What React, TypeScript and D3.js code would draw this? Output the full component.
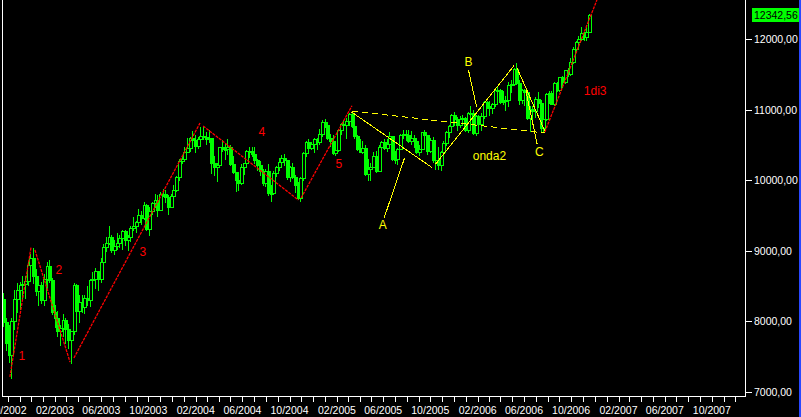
import React from "react";
import * as d3 from "d3";

const W = 801;
const H = 417;

// Weekly bars (week ending Friday)
const FIRST_WEEK = "2002-09-20";
const LAST_WEEK = "2006-11-17";

const opens = [
  8312, 7986, 7701, 7528, 8008, 8322, 8443, 8517, 8537, 8579, 8804, 8896, 8645, 8433, 8511,
  8303, 8601, 8785, 8586, 8131, 8053, 7864, 7908, 8018, 7891, 7740, 7859, 8521, 8145, 8277,
  8203, 8337, 8306, 8582, 8604, 8713, 8601, 8850, 9062, 9117, 9200, 9011, 9070, 9119, 9188,
  9284, 9153, 9191, 9321, 9348, 9416, 9503, 9471, 9644, 9313, 9573, 9674, 9721, 9582, 9801,
  9810, 9768, 9629, 9782, 9862, 10042, 10278,
  10305, 10409, 10458, 10600, 10568, 10488, 10593, 10627, 10619, 10584, 10595, 10240, 10186, 10212,
  10470, 10442, 10451, 10472, 10226, 10117, 10012, 9966, 10188, 10243, 10410, 10416, 10371, 10282,
  10213, 10140, 9962, 10140, 9815, 9825, 10110, 10195, 10260, 10314, 10284, 10047, 10193, 10055,
  9933, 9757, 10027, 10387, 10539, 10456, 10522, 10592, 10543, 10661, 10827,
  10783, 10603, 10558, 10392, 10427, 10716, 10796, 10785, 10841, 10940, 10774, 10629, 10442, 10404,
  10461, 10087, 10157, 10192, 10345, 10140, 10471, 10542, 10460, 10513, 10623, 10297, 10303, 10449,
  10640, 10651, 10641, 10558, 10600, 10559, 10397, 10447, 10679, 10641, 10419, 10569, 10292, 10287,
  10215, 10402, 10530, 10686, 10766, 10931, 10877, 10778, 10875, 10883,
  10718, 10959, 10960, 10667, 10907, 10793, 10919, 11115, 11061, 11021, 11076, 11279, 11280, 11109,
  11120, 11137, 11347, 11367, 11577, 11380, 11144, 11278, 11247, 10891, 11014, 10989, 11150, 11090,
  10739, 10868, 11219, 11240, 11088, 11381, 11284, 11464, 11392, 11560, 11508, 11679, 11866, 11960,
  12002, 12090, 12032, 12108,
];
const highs = [
  8400, 8050, 7950, 8050, 8440, 8540, 8560, 8640, 8640, 8850, 8960, 9043, 8750, 8640, 8560,
  8670, 8850, 8870, 8620, 8230, 8150, 7950, 8110, 8050, 7960, 7870, 8540, 8530, 8380, 8380,
  8370, 8500, 8600, 8700, 8760, 8720, 8900, 9100, 9200, 9350, 9220, 9150, 9260, 9230, 9300,
  9300, 9220, 9350, 9480, 9430, 9600, 9570, 9690, 9660, 9620, 9700, 9810, 9790, 9840, 9880,
  9870, 9790, 9800, 9930, 10060, 10300, 10350,
  10470, 10600, 10620, 10700, 10640, 10610, 10750, 10760, 10680, 10720, 10600, 10350, 10250, 10480,
  10570, 10520, 10580, 10500, 10340, 10120, 10050, 10230, 10250, 10430, 10480, 10480, 10480, 10300,
  10270, 10160, 10160, 10230, 9940, 10140, 10210, 10320, 10360, 10380, 10290, 10210, 10240, 10080,
  9970, 10050, 10400, 10560, 10580, 10550, 10600, 10600, 10730, 10850, 10870,
  10790, 10660, 10650, 10490, 10730, 10810, 10850, 10880, 10950, 10984, 10820, 10640, 10580, 10560,
  10500, 10300, 10250, 10400, 10420, 10500, 10560, 10580, 10580, 10680, 10630, 10420, 10460, 10660,
  10720, 10720, 10720, 10700, 10640, 10580, 10500, 10690, 10720, 10650, 10600, 10620, 10350, 10470,
  10420, 10560, 10700, 10790, 10940, 10970, 10900, 10910, 10920, 10900,
  10970, 11060, 11000, 10930, 10930, 10950, 11130, 11130, 11120, 11090, 11300, 11340, 11300, 11270,
  11200, 11400, 11420, 11600, 11670, 11420, 11300, 11300, 11250, 11060, 11050, 11180, 11250, 11140,
  10900, 11240, 11270, 11270, 11390, 11390, 11470, 11480, 11570, 11590, 11730, 11890, 11970, 12050,
  12170, 12100, 12200, 12360,
];
const lows = [
  7940, 7600, 7422, 7197, 7900, 8140, 8170, 8300, 8330, 8520, 8730, 8550, 8380, 8240, 8260,
  8240, 8480, 8560, 8110, 7920, 7800, 7670, 7800, 7700, 7630, 7417, 7820, 8070, 7990, 8140,
  8120, 8230, 8220, 8520, 8470, 8450, 8560, 8840, 9000, 9100, 8980, 8950, 9030, 9060, 9030,
  9080, 9010, 9140, 9300, 9270, 9400, 9380, 9450, 9300, 9230, 9530, 9620, 9500, 9580, 9780,
  9700, 9530, 9620, 9780, 9850, 10000, 10240,
  10300, 10400, 10410, 10530, 10400, 10460, 10570, 10580, 10520, 10550, 10100, 10070, 9990, 10200,
  10420, 10310, 10380, 10220, 10100, 9850, 9860, 9950, 10090, 10240, 10330, 10340, 10250, 10150,
  10070, 9940, 9920, 9790, 9710, 9800, 10060, 10150, 10230, 10220, 10020, 9990, 10040, 9840,
  9740, 9708, 10000, 10350, 10420, 10450, 10400, 10440, 10520, 10630, 10750,
  10580, 10490, 10380, 10360, 10420, 10660, 10740, 10600, 10780, 10750, 10600, 10430, 10400, 10390,
  10080, 10000, 10000, 10190, 10120, 10130, 10440, 10440, 10410, 10500, 10290, 10250, 10230, 10440,
  10600, 10570, 10540, 10510, 10480, 10390, 10360, 10440, 10580, 10370, 10400, 10260, 10160, 10160,
  10150, 10400, 10500, 10620, 10750, 10780, 10720, 10760, 10780, 10700,
  10680, 10920, 10660, 10640, 10760, 10710, 10880, 11020, 10930, 10950, 11060, 11220, 11100, 11080,
  11000, 11060, 11250, 11350, 11360, 11080, 11100, 11070, 10870, 10700, 10860, 10900, 11040, 10700,
  10680, 10860, 11090, 11080, 11070, 11260, 11260, 11330, 11380, 11480, 11500, 11660, 11820, 11900,
  11990, 11990, 11990, 12100,
];
const closes = [
  7986, 7701, 7528, 8008, 8322, 8443, 8517, 8537, 8579, 8804, 8896, 8645, 8433, 8511, 8303,
  8601, 8785, 8586, 8131, 8053, 7864, 7908, 8018, 7891, 7740, 7859, 8521, 8145, 8277, 8203,
  8337, 8306, 8582, 8604, 8713, 8601, 8850, 9062, 9117, 9200, 9011, 9070, 9119, 9188, 9284,
  9153, 9191, 9321, 9348, 9416, 9503, 9471, 9644, 9313, 9573, 9674, 9721, 9582, 9801, 9810,
  9768, 9629, 9782, 9862, 10042, 10278, 10305,
  10409, 10458, 10600, 10568, 10488, 10593, 10627, 10619, 10584, 10595, 10240, 10186, 10212, 10470,
  10442, 10451, 10472, 10226, 10117, 10012, 9966, 10188, 10243, 10410, 10416, 10371, 10282, 10213,
  10140, 9962, 10140, 9815, 9825, 10110, 10195, 10260, 10314, 10284, 10047, 10193, 10055, 9933,
  9757, 10027, 10387, 10539, 10456, 10522, 10592, 10543, 10661, 10827, 10783,
  10603, 10558, 10392, 10427, 10716, 10796, 10785, 10841, 10940, 10774, 10629, 10442, 10404, 10461,
  10087, 10157, 10192, 10345, 10140, 10471, 10542, 10460, 10513, 10623, 10297, 10303, 10449, 10640,
  10651, 10641, 10558, 10600, 10559, 10397, 10447, 10679, 10641, 10419, 10569, 10292, 10287, 10215,
  10402, 10530, 10686, 10766, 10931, 10877, 10778, 10875, 10883, 10718,
  10959, 10960, 10667, 10907, 10793, 10919, 11115, 11061, 11021, 11076, 11279, 11280, 11109, 11120,
  11137, 11347, 11367, 11577, 11380, 11144, 11278, 11247, 10891, 11014, 10989, 11150, 11090, 10739,
  10868, 11219, 11240, 11088, 11381, 11284, 11464, 11392, 11560, 11508, 11679, 11866, 11960, 12002,
  12090, 12032, 12108, 12342.56,
];

const yTicks = [7000, 8000, 9000, 10000, 11000, 12000];
const lastPrice = 12342.56;

// Elliott wave annotations: [date1, value1, date2, value2]
const redWaves: [string, number, string, number][] = [
  ["2002-10-07", 7213, "2002-12-01", 9056],
  ["2002-12-11", 9013, "2003-03-12", 7425],
  ["2003-03-22", 7482, "2004-02-12", 10813],
  ["2004-02-20", 10771, "2004-10-24", 9722],
  ["2004-10-31", 9750, "2005-03-12", 11058],
  ["2006-07-25", 10686, "2006-12-07", 12557],
];
const yellowLines: [string, number, string, number][] = [
  ["2005-03-11", 10969, "2005-10-05", 10183],
  ["2005-10-15", 10232, "2006-05-06", 11626],
  ["2006-05-14", 11593, "2006-07-25", 10700],
  ["2006-06-06", 11267, "2006-07-05", 10516],
  ["2006-01-08", 11565, "2006-01-29", 11045],
  ["2005-06-03", 9462, "2005-07-26", 10313],
];
const yellowDashed: [string, number, string, number][] = [
  ["2005-03-12", 10984, "2006-07-25", 10672],
];
// [text, date, value(baseline), anchor]
const redLabels: [string, string, number, string][] = [
  ["1", "2002-11-07", 7454, "middle"],
  ["2", "2003-02-11", 8673, "middle"],
  ["3", "2003-09-17", 8928, "middle"],
  ["4", "2004-07-21", 10629, "middle"],
  ["5", "2005-02-06", 10175, "middle"],
  ["1di3", "2006-11-03", 11210, "start"],
];
const yellowLabels: [string, string, number, string][] = [
  ["A", "2005-05-31", 9311, "middle"],
  ["B", "2006-01-08", 11621, "middle"],
  ["C", "2006-07-11", 10346, "middle"],
  ["onda2", "2006-01-19", 10289, "start"],
];

const parse = d3.timeParse("%Y-%m-%d");
const GREEN = "#00ff00";
const RED = "#ff0000";
const YELLOW = "#ffff00";
const FONT = "'Liberation Sans', Arial, sans-serif";

export default function App() {
  const x = d3
    .scaleTime()
    .domain([new Date(2003, 1, 1), new Date(2007, 1, 1)])
    .range([55, 618.5]);
  const y = d3.scaleLinear().domain([7000, 12000]).range([392, 39.3]);

  const weeks = d3.timeFriday.range(
    parse(FIRST_WEEK) as Date,
    d3.timeDay.offset(parse(LAST_WEEK) as Date, 1)
  );
  const bars = weeks.map((d, i) => ({
    d,
    o: opens[i],
    h: highs[i],
    l: lows[i],
    c: closes[i],
  }));

  const months = d3.timeMonth.range(new Date(2002, 9, 1), new Date(2008, 0, 1));
  const fmtMonth = d3.timeFormat("%m/%Y");
  const fmtPrice = (v: number) => d3.format(".2f")(v).replace(".", ",");

  const axisX = 745.5;
  const axisY = 396.5;

  const seg = (s: [string, number, string, number]) => ({
    x1: x(parse(s[0]) as Date),
    y1: y(s[1]),
    x2: x(parse(s[2]) as Date),
    y2: y(s[3]),
  });

  return (
    <div style={{ position: "absolute", left: 0, top: 0 }}>
      <style>{`body{margin:0;background:#000}`}</style>
      <svg width={W} height={H} style={{ display: "block", background: "#000" }}>
        <rect x={0} y={0} width={W} height={H} fill="#000" />
        <defs>
          <clipPath id="plot">
            <rect x={3} y={0} width={axisX - 3} height={axisY} />
          </clipPath>
        </defs>

        {/* candles */}
        <g clipPath="url(#plot)">
          {bars.map((b, i) => {
            const cx = Math.round(x(b.d));
            const top = Math.round(y(Math.max(b.o, b.c)));
            const bot = Math.round(y(Math.min(b.o, b.c)));
            const up = b.c >= b.o;
            return (
              <g key={i} shapeRendering="crispEdges">
                <line
                  x1={cx + 0.5}
                  x2={cx + 0.5}
                  y1={Math.round(y(b.h))}
                  y2={Math.round(y(b.l)) + 1}
                  stroke={GREEN}
                  strokeWidth={1}
                />
                {up ? (
                  <rect
                    x={cx - 1 + 0.5}
                    y={top + 0.5}
                    width={3}
                    height={Math.max(bot - top, 1)}
                    fill="#000"
                    stroke={GREEN}
                    strokeWidth={1}
                  />
                ) : (
                  <rect
                    x={cx - 1}
                    y={top}
                    width={4}
                    height={Math.max(bot - top + 1, 1)}
                    fill={GREEN}
                  />
                )}
              </g>
            );
          })}
        </g>

        {/* annotations */}
        <g clipPath="url(#plot)">
          {redWaves.map((s, i) => (
            <line
              key={"r" + i}
              {...seg(s)}
              stroke={RED}
              strokeWidth={1.3}
              strokeDasharray="3,1"
            />
          ))}
          {yellowLines.map((s, i) => (
            <line key={"y" + i} {...seg(s)} stroke={YELLOW} strokeWidth={1} shapeRendering="crispEdges" />
          ))}
          {yellowDashed.map((s, i) => (
            <line key={"yd" + i} {...seg(s)} stroke={YELLOW} strokeWidth={1} strokeDasharray="6,4" shapeRendering="crispEdges" />
          ))}
          {redLabels.map((l, i) => (
            <text
              key={"rl" + i}
              x={x(parse(l[1]) as Date)}
              y={y(l[2])}
              textAnchor={l[3] as any}
              fill={RED}
              fontFamily={FONT}
              fontSize={12}
            >
              {l[0]}
            </text>
          ))}
          {yellowLabels.map((l, i) => (
            <text
              key={"yl" + i}
              x={x(parse(l[1]) as Date)}
              y={y(l[2])}
              textAnchor={l[3] as any}
              fill={YELLOW}
              fontFamily={FONT}
              fontSize={12}
            >
              {l[0]}
            </text>
          ))}
        </g>

        {/* frame lines */}
        <g shapeRendering="crispEdges" stroke="#fff" strokeWidth={1}>
          <line x1={2.5} x2={2.5} y1={0} y2={axisY} />
          <line x1={2} x2={axisX} y1={axisY} y2={axisY} />
          <line x1={axisX} x2={axisX} y1={0} y2={axisY} />
        </g>

        {/* x axis ticks & labels */}
        <g>
          {months.map((m, i) => {
            const px = Math.round(x(m)) + 0.5;
            if (px < 2 || px > axisX - 2) return null;
            return (
              <line key={i} x1={px} x2={px} y1={axisY} y2={axisY + 5} stroke="#fff" shapeRendering="crispEdges" />
            );
          })}
          {months
            .filter((m) => m.getMonth() % 4 === 1)
            .map((m, i) => (
              <text
                key={i}
                x={x(m)}
                y={414}
                textAnchor="middle"
                fill="#fff"
                fontFamily={FONT}
                fontSize={10.5}
              >
                {fmtMonth(m)}
              </text>
            ))}
        </g>

        {/* y axis ticks & labels */}
        <g>
          {yTicks.map((t) => {
            const py = Math.round(y(t)) + 0.5;
            return (
              <g key={t}>
                <line x1={axisX} x2={axisX + 6} y1={py} y2={py} stroke="#fff" shapeRendering="crispEdges" />
                <text
                  x={754}
                  y={py}
                  dy="0.35em"
                  fill="#fff"
                  fontFamily={FONT}
                  fontSize={10.5}
                >
                  {fmtPrice(t)}
                </text>
              </g>
            );
          })}
        </g>

        {/* last price box */}
        <rect x={752} y={Math.round(y(lastPrice)) - 7} width={47} height={14} fill={GREEN} />
        <text
          x={754}
          y={y(lastPrice)}
          dy="0.35em"
          fill="#000"
          fontFamily={FONT}
          fontSize={10.5}
        >
          {fmtPrice(lastPrice)}
        </text>

        {/* right blue edge */}
        <rect x={799} y={0} width={2} height={H} fill="#2a48ff" />
      </svg>
    </div>
  );
}
